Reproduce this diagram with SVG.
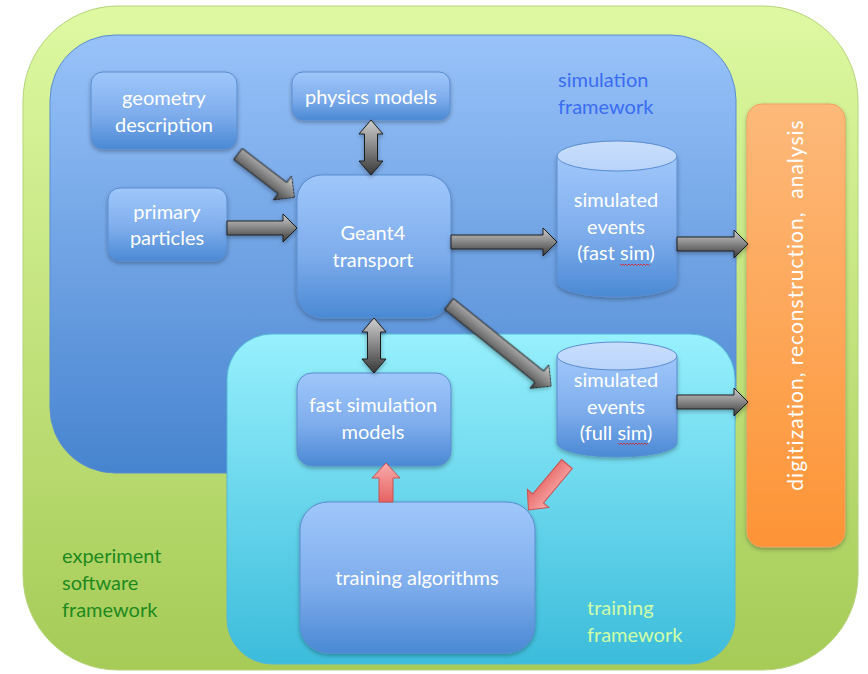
<svg xmlns="http://www.w3.org/2000/svg" width="868" height="674" viewBox="0 0 868 674">
<defs>
<linearGradient id="gGreen" x1="0" y1="0" x2="0" y2="1"><stop offset="0" stop-color="#DEF9A2"/><stop offset="1" stop-color="#A6CB57"/></linearGradient>
<linearGradient id="gBlueBg" x1="0" y1="0" x2="0" y2="1"><stop offset="0" stop-color="#98C2F9"/><stop offset="1" stop-color="#4784CF"/></linearGradient>
<linearGradient id="gCyan" x1="0" y1="0" x2="0" y2="1"><stop offset="0" stop-color="#97F0FD"/><stop offset="1" stop-color="#3CBCDB"/></linearGradient>
<linearGradient id="gOrange" x1="0" y1="0" x2="0" y2="1"><stop offset="0" stop-color="#FDB97A"/><stop offset="1" stop-color="#FD9436"/></linearGradient>
<linearGradient id="gNode" x1="0" y1="0" x2="0" y2="1"><stop offset="0" stop-color="#9FC7FB"/><stop offset="0.55" stop-color="#7FADEC"/><stop offset="1" stop-color="#4A89D4"/></linearGradient>
<linearGradient id="gCylTop" x1="0" y1="0" x2="0" y2="1"><stop offset="0" stop-color="#C9DEFC"/><stop offset="1" stop-color="#B8D3FA"/></linearGradient>
<linearGradient id="gGray" x1="0" y1="0" x2="0" y2="1"><stop offset="0" stop-color="#CFCFCF"/><stop offset="0.5" stop-color="#858585"/><stop offset="1" stop-color="#383838"/></linearGradient>
<linearGradient id="gRed" x1="0" y1="0" x2="0" y2="1"><stop offset="0" stop-color="#F9ABAB"/><stop offset="1" stop-color="#E66262"/></linearGradient>
<filter id="sh" x="-20%" y="-20%" width="140%" height="140%"><feDropShadow dx="0" dy="2" stdDeviation="2" flood-color="#000" flood-opacity="0.3"/></filter>
<style>
.node{fill:url(#gNode);stroke:#5A8DD0;stroke-width:1;filter:url(#sh)}
.cyltop{fill:url(#gCylTop);stroke:#5A8DD0;stroke-width:1}
.lbl{font-family:Lato,"Liberation Sans",sans-serif;font-size:20px;fill:#FFFFFF;text-anchor:middle}
.frame{font-family:Lato,"Liberation Sans",sans-serif;font-size:20px}
.ga{fill:url(#gGray);stroke:#1E1E1E;stroke-width:1;filter:url(#sh)}
.ra{fill:url(#gRed);stroke:#C95050;stroke-width:1}
.squig{fill:none;stroke:#E02020;stroke-width:0.8}
</style>
</defs>

<g id="experiment-framework">
<rect x="23" y="6" width="835" height="664" rx="95" ry="95" fill="url(#gGreen)" stroke="#B5D37A" stroke-width="1"/>
<text class="frame" fill="#1E8A1E"><tspan x="62" y="563">experiment</tspan><tspan x="62" y="590">software</tspan><tspan x="62" y="617">framework</tspan></text>
</g>

<g id="simulation-framework">
<rect x="50" y="35" width="686" height="438" rx="65" ry="65" fill="url(#gBlueBg)" stroke="#5A8DD0" stroke-width="1"/>
<text class="frame" fill="#3A6CF2"><tspan x="558" y="87">simulation</tspan><tspan x="558" y="114">framework</tspan></text>
</g>

<g id="training-framework">
<rect x="227" y="334" width="508" height="330" rx="45" ry="45" fill="url(#gCyan)" stroke="#55B8D8" stroke-width="1"/>
<text class="frame" fill="#CFFFA8"><tspan x="587" y="615">training</tspan><tspan x="587" y="642">framework</tspan></text>
</g>

<g id="digitization">
<rect x="747" y="104" width="98" height="443" rx="15" ry="15" fill="url(#gOrange)" stroke="#F0A060" stroke-width="1" filter="url(#sh)"/>
<text class="lbl" style="font-size:21px;letter-spacing:1px" transform="translate(803,305) rotate(-90)" xml:space="preserve">digitization, reconstruction,  analysis</text>
</g>

<g id="geometry-description">
<rect class="node" x="91" y="72" width="146" height="77" rx="12"/>
<text class="lbl"><tspan x="164" y="105">geometry</tspan><tspan x="164" y="132">description</tspan></text>
</g>

<g id="physics-models">
<rect class="node" x="292" y="72" width="158" height="48" rx="11"/>
<text class="lbl" x="371" y="104">physics models</text>
</g>

<g id="primary-particles">
<rect class="node" x="108" y="188" width="119" height="73" rx="12"/>
<text class="lbl"><tspan x="167" y="219">primary</tspan><tspan x="167" y="245">particles</tspan></text>
</g>

<g id="geant4-transport">
<rect class="node" x="297" y="175" width="154" height="143" rx="25"/>
<text class="lbl"><tspan x="373" y="240">Geant4</tspan><tspan x="373" y="267">transport</tspan></text>
</g>

<g id="simulated-events-fast">
<path class="node" d="M557,156 V282 A60,15 0 0 0 677,282 V156 Z"/>
<ellipse class="cyltop" cx="617" cy="156" rx="60" ry="15"/>
<text class="lbl"><tspan x="616" y="207">simulated</tspan><tspan x="616" y="234">events</tspan><tspan x="616" y="260">(fast sim)</tspan></text>
<path class="squig" d="M620,264 l1.5,1.5 l1.5,-1.5 l1.5,1.5 l1.5,-1.5 l1.5,1.5 l1.5,-1.5 l1.5,1.5 l1.5,-1.5 l1.5,1.5 l1.5,-1.5 l1.5,1.5 l1.5,-1.5 l1.5,1.5 l1.5,-1.5 l1.5,1.5 l1.5,-1.5 l1.5,1.5 l1.5,-1.5 l1.5,1.5 l1.5,-1.5"/>
</g>

<g id="simulated-events-full">
<path class="node" d="M557,356 V443 A60,14 0 0 0 677,443 V356 Z"/>
<ellipse class="cyltop" cx="617" cy="356" rx="60" ry="14"/>
<text class="lbl"><tspan x="616" y="387">simulated</tspan><tspan x="616" y="414">events</tspan><tspan x="616" y="440">(full sim)</tspan></text>
<path class="squig" d="M618,443 l1.5,1.5 l1.5,-1.5 l1.5,1.5 l1.5,-1.5 l1.5,1.5 l1.5,-1.5 l1.5,1.5 l1.5,-1.5 l1.5,1.5 l1.5,-1.5 l1.5,1.5 l1.5,-1.5 l1.5,1.5 l1.5,-1.5 l1.5,1.5 l1.5,-1.5 l1.5,1.5 l1.5,-1.5 l1.5,1.5 l1.5,-1.5"/>
</g>

<g id="fast-simulation-models">
<rect class="node" x="297" y="373" width="154" height="93" rx="15"/>
<text class="lbl"><tspan x="373" y="412">fast simulation</tspan><tspan x="373" y="439">models</tspan></text>
</g>

<g id="training-algorithms">
<rect class="node" x="300" y="502" width="235" height="151" rx="28"/>
<text class="lbl" x="417" y="585">training algorithms</text>
</g>

<g id="connectors">
<path class="ga" d="M0,-7 H56 V-15 L71,0 L56,15 V7 H0 Z" transform="translate(238,154) rotate(37.5)"/>
<path class="ga" d="M227,221 H283 V214 L297,228 L283,242 V235 H227 Z"/>
<path class="ga" d="M371,120 L383,134 H377.5 V161 H383 L371,175 L359,161 H364.5 V134 H359 Z"/>
<path class="ga" d="M451,235 H543 V228 L557,242 L543,256 V249 H451 Z"/>
<path class="ga" d="M677,237 H734 V230 L748,244 L734,258 V251 H677 Z"/>
<path class="ga" d="M0,-7 H116 V-15 L131,0 L116,15 V7 H0 Z" transform="translate(449,304) rotate(38.8)"/>
<path class="ga" d="M677,395 H734 V388 L748,402 L734,416 V409 H677 Z"/>
<path class="ga" d="M374,318 L386,332 H380.5 V359 H386 L374,373 L362,359 H367.5 V332 H362 Z"/>
<path class="ra" d="M379,502 V478 H372 L386,463 L400,478 H393 V502 Z"/>
<path class="ra" d="M0,-7 H45 V-14 L60,0 L45,14 V7 H0 Z" transform="translate(567,464) rotate(130)"/>
</g>
</svg>
